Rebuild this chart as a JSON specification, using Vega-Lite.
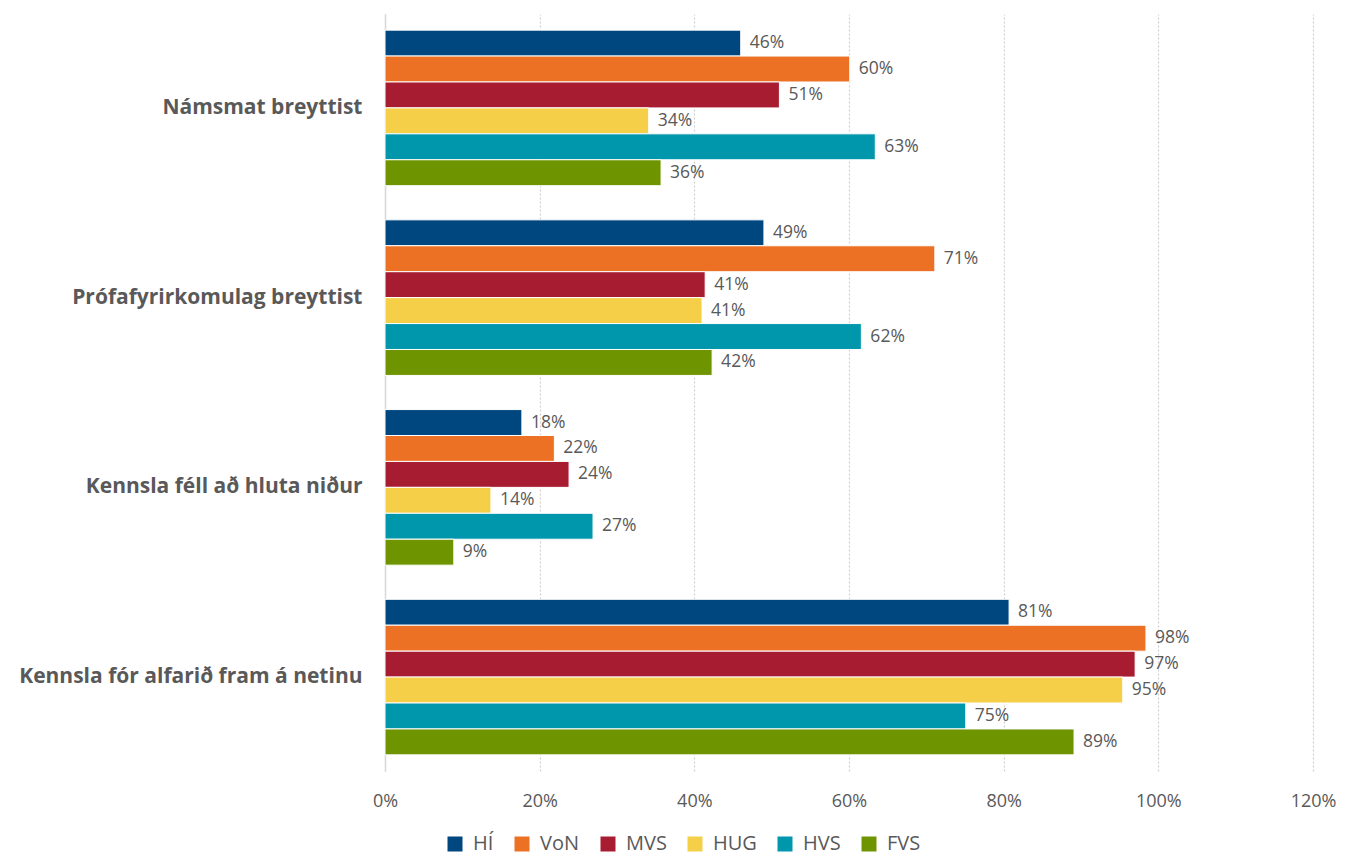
{
  "$schema": "https://vega.github.io/schema/vega-lite/v6.json",
  "width": 928,
  "height": 757,
  "autosize": {"type": "none"},
  "padding": {"left": 385, "top": 14, "right": 43, "bottom": 86},
  "background": "white",
  "config": {"view": {"stroke": null}, "font": "Open Sans"},
  "data": {"values": [
    {"cat": "Námsmat breyttist", "skoli": "HÍ", "v": 0.460},
    {"cat": "Námsmat breyttist", "skoli": "VoN", "v": 0.601},
    {"cat": "Námsmat breyttist", "skoli": "MVS", "v": 0.510},
    {"cat": "Námsmat breyttist", "skoli": "HUG", "v": 0.341},
    {"cat": "Námsmat breyttist", "skoli": "HVS", "v": 0.634},
    {"cat": "Námsmat breyttist", "skoli": "FVS", "v": 0.357},
    {"cat": "Prófafyrirkomulag breyttist", "skoli": "HÍ", "v": 0.490},
    {"cat": "Prófafyrirkomulag breyttist", "skoli": "VoN", "v": 0.711},
    {"cat": "Prófafyrirkomulag breyttist", "skoli": "MVS", "v": 0.414},
    {"cat": "Prófafyrirkomulag breyttist", "skoli": "HUG", "v": 0.410},
    {"cat": "Prófafyrirkomulag breyttist", "skoli": "HVS", "v": 0.616},
    {"cat": "Prófafyrirkomulag breyttist", "skoli": "FVS", "v": 0.423},
    {"cat": "Kennsla féll að hluta niður", "skoli": "HÍ", "v": 0.177},
    {"cat": "Kennsla féll að hluta niður", "skoli": "VoN", "v": 0.219},
    {"cat": "Kennsla féll að hluta niður", "skoli": "MVS", "v": 0.238},
    {"cat": "Kennsla féll að hluta niður", "skoli": "HUG", "v": 0.137},
    {"cat": "Kennsla féll að hluta niður", "skoli": "HVS", "v": 0.269},
    {"cat": "Kennsla féll að hluta niður", "skoli": "FVS", "v": 0.089},
    {"cat": "Kennsla fór alfarið fram á netinu", "skoli": "HÍ", "v": 0.807},
    {"cat": "Kennsla fór alfarið fram á netinu", "skoli": "VoN", "v": 0.984},
    {"cat": "Kennsla fór alfarið fram á netinu", "skoli": "MVS", "v": 0.970},
    {"cat": "Kennsla fór alfarið fram á netinu", "skoli": "HUG", "v": 0.954},
    {"cat": "Kennsla fór alfarið fram á netinu", "skoli": "HVS", "v": 0.751},
    {"cat": "Kennsla fór alfarið fram á netinu", "skoli": "FVS", "v": 0.891}
  ]},
  "encoding": {
    "y": {
      "field": "cat", "type": "nominal", "sort": null,
      "scale": {"paddingInner": 0.18, "paddingOuter": 0.085},
      "axis": {"title": null, "ticks": false, "domain": true, "domainColor": "#d9d9d9", "domainWidth": 1.5,
        "labelFontSize": 21, "labelFontWeight": "bold", "labelColor": "#595959", "labelPadding": 23, "labelLimit": 400, "grid": false}
    },
    "yOffset": {"field": "skoli", "type": "nominal", "sort": ["HÍ", "VoN", "MVS", "HUG", "HVS", "FVS"], "scale": {"paddingInner": 0, "paddingOuter": 0}},
    "x": {
      "field": "v", "type": "quantitative",
      "scale": {"domain": [0, 1.2], "nice": false},
      "axis": {"title": null, "format": ".0%", "values": [0, 0.2, 0.4, 0.6, 0.8, 1.0, 1.2], "ticks": false, "domain": false,
        "grid": true, "gridColor": "#cfcfcf", "gridDash": [2, 2], "gridWidth": 1.2, "labelFlush": false,
        "labelFontSize": 18, "labelColor": "#595959", "labelPadding": 21}
    }
  },
  "layer": [
    {
      "mark": {"type": "bar", "stroke": "white", "strokeWidth": 1},
      "encoding": {
        "color": {
          "field": "skoli", "type": "nominal",
          "scale": {"domain": ["HÍ", "VoN", "MVS", "HUG", "HVS", "FVS"], "range": ["#00467F", "#EC7125", "#A81C31", "#F5CF47", "#0097AC", "#6E9500"]},
          "legend": {"title": null, "orient": "none", "direction": "horizontal", "legendX": 60, "legendY": 820,
            "symbolType": "square", "symbolSize": 225, "symbolStrokeWidth": 0, "labelFontSize": 20, "labelColor": "#595959",
            "columnPadding": 18, "labelOffset": 8}
        }
      }
    },
    {
      "mark": {"type": "text", "align": "left", "dx": 9, "fontSize": 17.5, "color": "#595959"},
      "encoding": {"text": {"field": "v", "type": "quantitative", "format": ".0%"}}
    }
  ]
}
